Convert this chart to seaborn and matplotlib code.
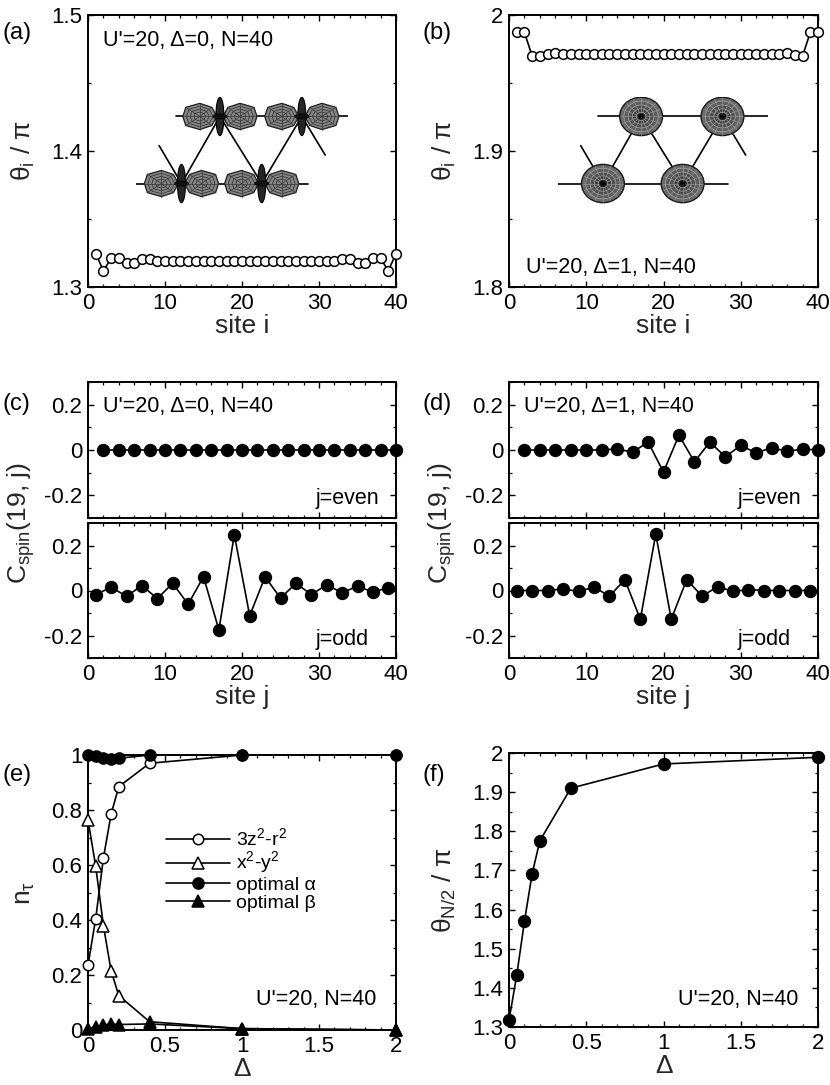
import seaborn as sns
import matplotlib.pyplot as plt
import numpy as np
from matplotlib.patches import Ellipse, Polygon
from matplotlib.ticker import MultipleLocator, FuncFormatter

# ---- data ----
sites = list(range(1, 41))
theta_d0 = [1.3245, 1.3120, 1.3210, 1.3215, 1.3180, 1.3175, 1.3205, 1.3205,
            1.3190, 1.3192, 1.3190, 1.3192, 1.3190, 1.3192, 1.3190, 1.3192,
            1.3190, 1.3192, 1.3190, 1.3192, 1.3192, 1.3190, 1.3192, 1.3190,
            1.3192, 1.3190, 1.3192, 1.3190, 1.3192, 1.3190, 1.3192, 1.3190,
            1.3205, 1.3205, 1.3175, 1.3180, 1.3215, 1.3210, 1.3120, 1.3245]
theta_d1 = [1.9877, 1.9872, 1.9698, 1.9700, 1.9713, 1.9718, 1.9712, 1.9710,
            1.9710, 1.9710, 1.9710, 1.9710, 1.9710, 1.9710, 1.9710, 1.9710,
            1.9710, 1.9710, 1.9710, 1.9710, 1.9710, 1.9710, 1.9710, 1.9710,
            1.9710, 1.9710, 1.9710, 1.9710, 1.9710, 1.9710, 1.9710, 1.9710,
            1.9710, 1.9710, 1.9713, 1.9718, 1.9705, 1.9698, 1.9872, 1.9877]

even_sites = list(range(2, 41, 2))
odd_sites = list(range(1, 40, 2))
cspin_d0_even = [0.0] * 20
cspin_d0_odd = [-0.019, 0.015, -0.026, 0.022, -0.036, 0.032, -0.061, 0.061,
                -0.175, 0.248, -0.112, 0.061, -0.034, 0.032, -0.018, 0.025,
                -0.010, 0.019, -0.007, 0.012]
cspin_d1_even = [0.0, 0.0, 0.0, 0.0, 0.0, 0.0, 0.005, -0.010, 0.035, -0.097,
                 0.065, -0.052, 0.035, -0.030, 0.020, -0.013, 0.010, -0.006,
                 0.004, 0.0]
cspin_d1_odd = [0.0, 0.0, 0.0, 0.007, -0.004, 0.015, -0.025, 0.048, -0.128,
                0.251, -0.128, 0.048, -0.025, 0.017, -0.004, 0.004, 0.0, 0.0,
                0.0, 0.0]

delta = [0, 0.05, 0.1, 0.15, 0.2, 0.4, 1, 2]
n_3z2 = [0.235, 0.405, 0.625, 0.785, 0.885, 0.970, 1.0, 1.0]
n_x2y2 = [0.765, 0.595, 0.380, 0.215, 0.125, 0.030, 0.005, 0.0]
n_alpha = [1.0, 0.996, 0.990, 0.985, 0.988, 1.0, 1.0, 1.0]
n_beta = [0.005, 0.012, 0.018, 0.022, 0.020, 0.022, 0.005, 0.0]
theta_half = [1.317, 1.432, 1.570, 1.692, 1.776, 1.910, 1.972, 1.989]

# ---- style ----
sns.set_theme(style="ticks")
plt.rcParams["font.family"] = ["Liberation Sans", "DejaVu Sans"]
plt.rcParams.update({
    "mathtext.fontset": "custom",
    "mathtext.rm": "Liberation Sans",
    "axes.linewidth": 1.4,
    "axes.edgecolor": "black",
    "xtick.direction": "in",
    "ytick.direction": "in",
    "xtick.top": True,
    "ytick.right": True,
    "xtick.major.size": 4,
    "ytick.major.size": 4,
    "xtick.minor.size": 2,
    "ytick.minor.size": 2,
    "xtick.major.width": 1.0,
    "ytick.major.width": 1.0,
    "xtick.minor.width": 0.9,
    "ytick.minor.width": 0.9,
    "xtick.labelsize": 16,
    "ytick.labelsize": 16,
    "axes.labelsize": 19,
    "xtick.color": "black",
    "ytick.color": "black",
    "text.color": "black",
})

TICK_FMT = FuncFormatter(lambda v, p: "{:g}".format(round(v, 3) + 0.0))


def style_axes(ax, xlim, ylim, xmaj, xmin, ymaj, ymin):
    ax.set_xlim(*xlim)
    ax.set_ylim(*ylim)
    ax.xaxis.set_major_locator(MultipleLocator(xmaj))
    ax.xaxis.set_minor_locator(MultipleLocator(xmin))
    ax.yaxis.set_major_locator(MultipleLocator(ymaj))
    ax.yaxis.set_minor_locator(MultipleLocator(ymin))
    ax.xaxis.set_major_formatter(TICK_FMT)
    ax.yaxis.set_major_formatter(TICK_FMT)
    ax.tick_params(which="both", top=True, right=True)
    ax.tick_params(axis="x", pad=4)
    ax.tick_params(axis="y", pad=4)
    ax.set_xlabel("")
    ax.set_ylabel("")


def draw(ax, x, y, filled=True, marker="o", ms=8, label=None, z=3):
    sns.lineplot(x=x, y=y, ax=ax, color="black", lw=1.2, marker=marker,
                 ms=ms, mfc="black" if filled else "white", mec="black",
                 mew=1.1, clip_on=False, zorder=z, label=label)
    if ax.get_legend() is not None:
        ax.get_legend().remove()


# geometry of the chain sketches (inset units ~ pixels)
top_row = [(83.3, 88.3), (165.0, 88.3)]
bottom_row = [(45.0, 21.7), (125.0, 21.7)]
zigzag = [(22.7, 59.3), (45.0, 21.7), (83.3, 88.3), (125.0, 21.7),
          (165.0, 88.3), (188.3, 50.0)]
lobe_shape = [(3, 0), (8, 9), (20, 13), (34, 9), (37, 0), (34, -9),
              (20, -13), (8, -9)]


def sketch_frame(ins):
    ins.set_xlim(0, 211)
    ins.set_ylim(0, 108)
    ins.axis("off")
    zx, zy = zip(*zigzag)
    ins.plot(zx, zy, color="black", lw=1.2, zorder=1)
    ins.plot([40, 211], [88.3, 88.3], color="black", lw=1.2, zorder=1)
    ins.plot([0, 171], [21.7, 21.7], color="black", lw=1.2, zorder=1)


def lobe_orbital(ins, cx, cy):
    for s in (-1, 1):
        for k, f in enumerate([1.0, 0.78, 0.56, 0.34]):
            pts = [(cx + s * (20 + (px - 20) * f), cy + py * f)
                   for px, py in lobe_shape]
            ins.add_patch(Polygon(pts, closed=True,
                                  facecolor="#858585" if k == 0 else "none",
                                  edgecolor="#1e1e1e" if k == 0 else "#3a3a3a",
                                  lw=0.9 if k == 0 else 0.6, zorder=2))
        for px, py in lobe_shape:
            ins.plot([cx + s * 20, cx + s * px], [cy, cy + py],
                     color="#3a3a3a", lw=0.5, zorder=2)
    ins.add_patch(Ellipse((cx, cy), 8, 38, facecolor="#262626",
                          edgecolor="black", lw=0.8, zorder=3))
    ins.add_patch(Ellipse((cx, cy), 14, 5, facecolor="#111111",
                          edgecolor="black", lw=0.5, zorder=4))


def disk_orbital(ins, cx, cy):
    w, h = 43, 38
    ins.add_patch(Ellipse((cx, cy), w, h, facecolor="#6a6a6a",
                          edgecolor="#1a1a1a", lw=1.0, zorder=2))
    for f, c in [(0.8, "#5e5e5e"), (0.6, "#505050"), (0.4, "#3e3e3e"),
                 (0.22, "#222222")]:
        ins.add_patch(Ellipse((cx, cy), w * f, h * f, facecolor=c,
                              edgecolor="#a8a8a8", lw=0.5, zorder=3))
    ang = np.linspace(0, 2 * np.pi, 16, endpoint=False)
    for a in ang:
        ins.plot([cx + 0.1 * w * np.cos(a), cx + 0.48 * w * np.cos(a)],
                 [cy + 0.1 * h * np.sin(a), cy + 0.48 * h * np.sin(a)],
                 color="#a0a0a0", lw=0.4, zorder=4)
    ins.add_patch(Ellipse((cx, cy), 5, 4.5, facecolor="#080808",
                          edgecolor="none", zorder=5))


W, H = 830, 1085
fig = plt.figure(figsize=(W / 100, H / 100), dpi=100)


def add_ax(left, right, top, bottom):
    return fig.add_axes([left / W, 1 - bottom / H, (right - left) / W,
                         (bottom - top) / H])


ax_a = add_ax(88, 396, 15, 287)
ax_b = add_ax(509, 818, 15, 287)
ax_c1 = add_ax(88, 396, 382, 518)
ax_c2 = add_ax(88, 396, 523, 658)
ax_d1 = add_ax(509, 818, 382, 518)
ax_d2 = add_ax(509, 818, 523, 658)
ax_e = add_ax(88, 396, 755, 1030)
ax_f = add_ax(509, 818, 753, 1027)

LABEL_X = -0.165
ANNOT = 15.5

# (a)
draw(ax_a, sites, theta_d0, filled=False, ms=7)
style_axes(ax_a, (0, 40), (1.3, 1.5), 10, 2, 0.1, 0.05)
ax_a.set_xlabel("site i", labelpad=0)
ax_a.set_ylabel(r"θ$_{\mathregular{i}}$ / π")
ax_a.yaxis.set_label_coords(LABEL_X, 0.5)
ax_a.text(0.05, 0.945, "U'=20, Δ=0, N=40", transform=ax_a.transAxes,
          fontsize=ANNOT, va="top")
ins_a = ax_a.inset_axes([0.157, 0.30, 0.687, 0.40])
sketch_frame(ins_a)
for cx, cy in top_row + bottom_row:
    lobe_orbital(ins_a, cx, cy)

# (b)
draw(ax_b, sites, theta_d1, filled=False, ms=7)
style_axes(ax_b, (0, 40), (1.8, 2.0), 10, 2, 0.1, 0.05)
ax_b.set_xlabel("site i", labelpad=0)
ax_b.set_ylabel(r"θ$_{\mathregular{i}}$ / π")
ax_b.yaxis.set_label_coords(LABEL_X, 0.5)
ax_b.text(0.056, 0.05, "U'=20, Δ=1, N=40", transform=ax_b.transAxes,
          fontsize=ANNOT, va="baseline")
ins_b = ax_b.inset_axes([0.159, 0.30, 0.68, 0.40])
sketch_frame(ins_b)
for cx, cy in top_row + bottom_row:
    disk_orbital(ins_b, cx, cy)

# (c) and (d)
for top_ax, bot_ax, ev, od, txt in [
        (ax_c1, ax_c2, cspin_d0_even, cspin_d0_odd, "U'=20, Δ=0, N=40"),
        (ax_d1, ax_d2, cspin_d1_even, cspin_d1_odd, "U'=20, Δ=1, N=40")]:
    draw(top_ax, even_sites, ev, ms=8.5)
    draw(bot_ax, odd_sites, od, ms=8.5)
    style_axes(top_ax, (0, 40), (-0.3, 0.3), 10, 2, 0.2, 0.1)
    style_axes(bot_ax, (0, 40), (-0.3, 0.3), 10, 2, 0.2, 0.1)
    top_ax.tick_params(axis="x", labelbottom=False)
    top_ax.text(0.05, 0.9, txt, transform=top_ax.transAxes, fontsize=ANNOT,
                va="top")
    top_ax.text(0.74, 0.1, "j=even", transform=top_ax.transAxes,
                fontsize=ANNOT, va="baseline")
    bot_ax.text(0.74, 0.1, "j=odd", transform=bot_ax.transAxes,
                fontsize=ANNOT, va="baseline")
    bot_ax.set_xlabel("site j", labelpad=0)
    bot_ax.set_ylabel(r"C$_{\mathregular{spin}}$(19, j)")
    bot_ax.yaxis.set_label_coords(LABEL_X, 1.0)

# (e)
draw(ax_e, delta, n_3z2, filled=False, ms=7.5, z=3,
     label=r"3z$^{\mathregular{2}}$-r$^{\mathregular{2}}$")
draw(ax_e, delta, n_x2y2, filled=False, marker="^", ms=8, z=3,
     label=r"x$^{\mathregular{2}}$-y$^{\mathregular{2}}$")
draw(ax_e, delta, n_alpha, ms=8, z=4, label="optimal α")
draw(ax_e, delta, n_beta, marker="^", ms=8.5, z=4, label="optimal β")
style_axes(ax_e, (0, 2), (0, 1), 0.5, 0.1, 0.2, 0.1)
ax_e.set_xlabel("Δ", labelpad=0)
ax_e.set_ylabel(r"n$_{\mathregular{τ}}$")
ax_e.yaxis.set_label_coords(LABEL_X, 0.5)
ax_e.text(0.935, 0.09, "U'=20, N=40", transform=ax_e.transAxes,
          fontsize=ANNOT, ha="right", va="baseline")
ax_e.legend(handles=ax_e.get_lines()[:4], loc="center left",
            bbox_to_anchor=(0.254, 0.584), frameon=False, fontsize=14,
            handlelength=3.3, handletextpad=0.3, labelspacing=0.0,
            borderpad=0, borderaxespad=0)

# (f)
draw(ax_f, delta, theta_half, ms=8.5)
style_axes(ax_f, (0, 2), (1.3, 2.0), 0.5, 0.1, 0.1, 0.05)
ax_f.set_xlabel("Δ", labelpad=0)
ax_f.set_ylabel(r"θ$_{\mathregular{N/2}}$ / π")
ax_f.yaxis.set_label_coords(LABEL_X, 0.5)
ax_f.text(0.935, 0.08, "U'=20, N=40", transform=ax_f.transAxes,
          fontsize=ANNOT, ha="right", va="baseline")

# panel tags
for tag, px, py in [("(a)", 3, 33), ("(b)", 423, 33), ("(c)", 3, 404),
                    ("(d)", 423, 404), ("(e)", 3, 775), ("(f)", 423, 775)]:
    fig.text(px / W, 1 - py / H, tag, fontsize=17, ha="left", va="center")

fig.savefig("out.png", dpi=100)
